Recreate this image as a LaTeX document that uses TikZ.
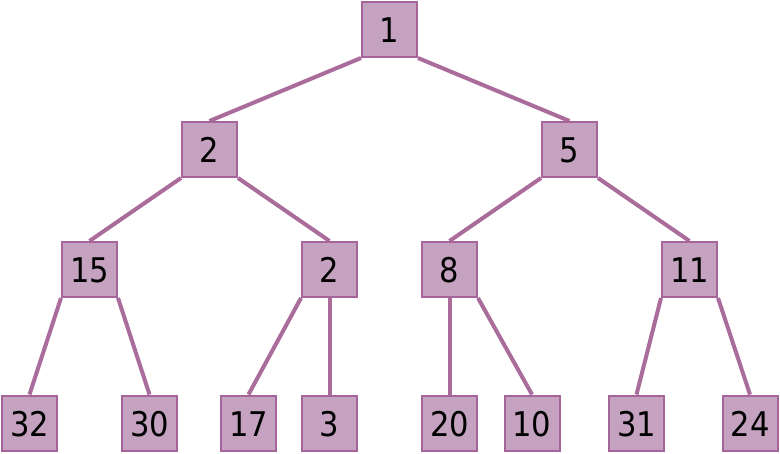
\documentclass[tikz,border=0pt]{standalone}
\usepackage{fontspec}
\setmainfont{DejaVu Sans Condensed}
\usetikzlibrary{backgrounds}
\definecolor{boxfill}{HTML}{C4A2C0}
\definecolor{boxline}{HTML}{A5649A}
\definecolor{edgecol}{HTML}{A96C9B}
\begin{document}
\begin{tikzpicture}[x=1bp,y=-1bp,
  tnode/.style={draw=boxline,fill=boxfill,line width=2bp,minimum size=55bp,inner sep=0pt,font=\fontsize{34bp}{38bp}\selectfont,text=black,text depth=0pt,text height=26bp},
  tedge/.style={draw=edgecol,line width=4bp}]
\useasboundingbox (0,0) rectangle (780,454);
\node[tnode] (n1) at (389.5,29.5) {1};
\node[tnode] (n2) at (209.5,149.5) {2};
\node[tnode] (n5) at (569.5,149.5) {5};
\node[tnode] (n15) at (89.5,269.5) {15};
\node[tnode] (n2b) at (329.5,269.5) {2};
\node[tnode] (n8) at (449.5,269.5) {8};
\node[tnode] (n11) at (689.5,269.5) {11};
\node[tnode] (n32) at (29.5,423) {32};
\node[tnode] (n30) at (149.5,423) {30};
\node[tnode] (n17) at (248.5,423) {17};
\node[tnode] (n3) at (329.5,423) {3};
\node[tnode] (n20) at (449.5,423) {20};
\node[tnode] (n10) at (532,423) {10};
\node[tnode] (n31) at (636.5,423) {31};
\node[tnode] (n24) at (750,423) {24};
\begin{scope}[on background layer]
\draw[tedge] (n1.south west) -- (n2.north);
\draw[tedge] (n1.south east) -- (n5.north);
\draw[tedge] (n2.south west) -- (n15.north);
\draw[tedge] (n2.south east) -- (n2b.north);
\draw[tedge] (n5.south west) -- (n8.north);
\draw[tedge] (n5.south east) -- (n11.north);
\draw[tedge] (n15.south west) -- (n32.north);
\draw[tedge] (n15.south east) -- (n30.north);
\draw[tedge] (n2b.south west) -- (n17.north);
\draw[tedge] (n2b.south) -- (n3.north);
\draw[tedge] (n8.south) -- (n20.north);
\draw[tedge] (n8.south east) -- (n10.north);
\draw[tedge] (n11.south west) -- (n31.north);
\draw[tedge] (n11.south east) -- (n24.north);
\end{scope}
\end{tikzpicture}
\end{document}
